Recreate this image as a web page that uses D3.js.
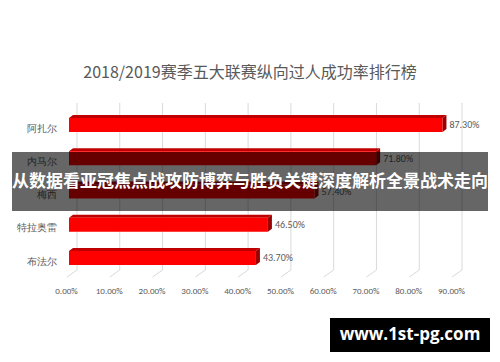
<!DOCTYPE html>
<html>
<head>
<meta charset="utf-8">
<script src="https://cdn.jsdelivr.net/npm/d3@7"></script>
<style>
  body { margin: 0; background: #fff; }
  svg { display: block; font-family: "Noto Sans CJK SC", "Noto Sans", sans-serif; }
</style>
</head>
<body>
<div id="chart"></div>
<script>
// data
const players = ["阿扎尔", "内马尔", "梅西", "特拉奥雷", "布法尔"]
const rates = [0.873, 0.718, 0.574, 0.465, 0.437]
const xTicks = [0, 0.1, 0.2, 0.3, 0.4, 0.5, 0.6, 0.7, 0.8, 0.9]
const title = "2018/2019赛季五大联赛纵向过人成功率排行榜"
const banner = "从数据看亚冠焦点战攻防博弈与胜负关键深度解析全景战术走向"
const watermark = "www.1st-pg.com"

const width = 500
const height = 362
const depth = { dx: 4, dy: -3 }
const barH = 14
const pct = d3.format(".2%")

const svg = d3.select("#chart").append("svg")
    .attr("width", width)
    .attr("height", height)

const x = d3.scaleLinear().domain([0, 0.9]).range([69, 454])
const y = d3.scalePoint().domain(players).range([125, 258])

// title
svg.append("text")
    .attr("x", 250)
    .attr("y", 74)
    .attr("text-anchor", "middle")
    .attr("dominant-baseline", "middle")
    .attr("fill", "#595959")
    .attr("font-size", 16)
    .text(title)

// back wall gridlines + floor diagonals
const grid = svg.append("g")
grid.selectAll("line.v")
  .data(xTicks)
  .join("line")
    .attr("class", "v")
    .attr("x1", d => x(d) + 8)
    .attr("x2", d => x(d) + 8)
    .attr("y1", 103)
    .attr("y2", 270)
    .attr("stroke", "#d9d9d9")
    .attr("stroke-width", 1)
grid.selectAll("line.f")
  .data(xTicks)
  .join("line")
    .attr("class", "f")
    .attr("x1", d => x(d) + 8)
    .attr("x2", d => x(d) - 2)
    .attr("y1", 270)
    .attr("y2", 277)
    .attr("stroke", "#d9d9d9")
    .attr("stroke-width", 1)

// x axis labels
const xAxis = svg.append("g")
    .attr("transform", "translate(-3, 288)")
    .call(d3.axisBottom(x).tickValues(xTicks).tickFormat(pct).tickSize(0).tickPadding(0))
xAxis.select(".domain").remove()
xAxis.selectAll("text")
    .attr("fill", "#595959")
    .attr("font-size", 9)
    .attr("font-family", "Calibri, Carlito, 'Liberation Sans', sans-serif")

// category labels
const yAxis = svg.append("g")
    .attr("transform", "translate(57, 3)")
    .call(d3.axisLeft(y).tickSize(0).tickPadding(0))
yAxis.select(".domain").remove()
yAxis.selectAll("text")
    .attr("fill", "#595959")
    .attr("font-size", 10)

// 3D bars
const bars = svg.append("g").selectAll("g")
  .data(players.map((p, i) => ({ name: p, value: rates[i] })))
  .join("g")

bars.append("path")
    .attr("fill", "#c00000")
    .attr("d", d => {
      const x0 = x(0), x1 = x(d.value), t = y(d.name) - barH / 2
      return `M${x0},${t}L${x0 + depth.dx},${t + depth.dy}L${x1 + depth.dx},${t + depth.dy}L${x1},${t}Z`
    })
bars.append("path")
    .attr("fill", "#9a0000")
    .attr("d", d => {
      const x1 = x(d.value), t = y(d.name) - barH / 2, b = t + barH
      return `M${x1},${t}L${x1 + depth.dx},${t + depth.dy}L${x1 + depth.dx},${b + depth.dy}L${x1},${b}Z`
    })
bars.append("rect")
    .attr("x", x(0))
    .attr("y", d => y(d.name) - barH / 2)
    .attr("width", d => x(d.value) - x(0))
    .attr("height", barH)
    .attr("fill", "#ff0000")

// value labels
bars.append("text")
    .attr("x", d => x(d.value) + 7)
    .attr("y", d => y(d.name) + 1)
    .attr("dominant-baseline", "middle")
    .attr("fill", "#595959")
    .attr("font-size", 10)
    .attr("font-family", "Calibri, Carlito, 'Liberation Sans', sans-serif")
    .text(d => pct(d.value))

// overlay banner
svg.append("rect")
    .attr("x", 12)
    .attr("y", 152)
    .attr("width", 476)
    .attr("height", 59)
    .attr("fill", "#000")
    .attr("fill-opacity", 0.6)
svg.append("text")
    .attr("x", 250)
    .attr("y", 182)
    .attr("text-anchor", "middle")
    .attr("dominant-baseline", "middle")
    .attr("fill", "#fff")
    .attr("font-size", 17)
    .attr("font-weight", "bold")
    .text(banner)

// watermark
svg.append("rect")
    .attr("x", 330)
    .attr("y", 318)
    .attr("width", 160)
    .attr("height", 34)
    .attr("fill", "#000")
svg.append("text")
    .attr("x", 410)
    .attr("y", 335)
    .attr("text-anchor", "middle")
    .attr("dominant-baseline", "middle")
    .attr("fill", "#fff")
    .attr("font-size", 17)
    .attr("font-weight", "bold")
    .attr("font-family", "'Open Sans', 'DejaVu Sans', sans-serif")
    .text(watermark)
</script>
</body>
</html>
